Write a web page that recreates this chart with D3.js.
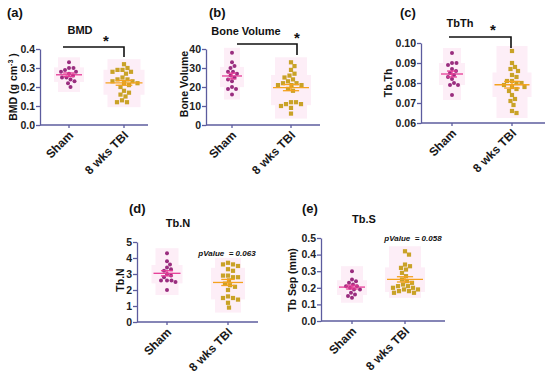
<!DOCTYPE html>
<html><head><meta charset="utf-8">
<script src="https://cdn.jsdelivr.net/npm/d3@7"></script>
<style>body{margin:0;background:#fff}svg{display:block;font-family:"Liberation Sans",Arial,sans-serif}</style>
</head><body>
<svg id="c" width="550" height="374"></svg>
<script>
// ---------- data ----------
const groups = ["Sham", "8 wks TBI"];

const bmdSham = [0.33, 0.30, 0.30, 0.29, 0.28, 0.28, 0.27, 0.26, 0.25, 0.25, 0.24, 0.23, 0.22, 0.20];
const bmdTbi  = [0.32, 0.30, 0.29, 0.29, 0.28, 0.28, 0.27, 0.25, 0.24, 0.24, 0.23, 0.23, 0.22, 0.22, 0.21, 0.20, 0.18, 0.17, 0.16, 0.15, 0.13, 0.12, 0.12];

const bvSham = [38, 33, 31, 30, 28, 28, 27, 26, 25, 24, 23, 20, 19, 19, 16];
const bvTbi  = [33, 31, 29, 27, 26, 25, 24, 23, 22, 22, 21, 21, 21, 19, 18, 12, 12, 11, 11, 10, 9, 6];

const tbthSham = [0.095, 0.090, 0.090, 0.089, 0.087, 0.086, 0.085, 0.084, 0.083, 0.082, 0.080, 0.079, 0.079, 0.074];
const tbthTbi  = [0.096, 0.090, 0.088, 0.087, 0.086, 0.084, 0.083, 0.081, 0.081, 0.080, 0.080, 0.079, 0.078, 0.078, 0.077, 0.076, 0.074, 0.072, 0.071, 0.069, 0.066, 0.065];

const tbnSham = [4.3, 3.8, 3.6, 3.4, 3.3, 3.2, 3.0, 2.9, 2.8, 2.6, 2.6, 2.6, 2.5, 2.0];
const tbnTbi  = [3.7, 3.6, 3.6, 3.5, 3.3, 3.2, 2.9, 2.9, 2.8, 2.8, 2.6, 2.4, 2.3, 2.2, 2.0, 1.6, 1.5, 1.5, 1.4, 1.2, 0.9];

const tbsSham = [0.30, 0.25, 0.24, 0.23, 0.22, 0.21, 0.21, 0.20, 0.19, 0.19, 0.17, 0.16, 0.15, 0.14];
const tbsTbi  = [0.42, 0.40, 0.34, 0.33, 0.32, 0.31, 0.29, 0.27, 0.25, 0.24, 0.23, 0.22, 0.21, 0.21, 0.20, 0.20, 0.19, 0.19, 0.18, 0.18, 0.17, 0.17];

const ticksBMD  = [0, 0.1, 0.2, 0.3, 0.4];
const ticksBV   = [0, 10, 20, 30, 40];
const ticksTbTh = [0.06, 0.07, 0.08, 0.09, 0.10];
const ticksTbN  = [0, 1, 2, 3, 4, 5];
const ticksTbS  = [0, 0.1, 0.2, 0.3, 0.4, 0.5];

const panelLabels = ["(a)", "(b)", "(c)", "(d)", "(e)"];
const titles = ["BMD", "Bone Volume", "TbTh", "Tb.N", "Tb.S"];
const yLabels = ["BMD (g cm", "Bone Volume", "Tb.Th", "Tb.N", "Tb Sep (mm)"];
const annotations = ["*", "*", "*", "pValue  = 0.063", "pValue  = 0.058"];

// ---------- layout ----------
const layout = [
  {x0:40,  x1:148, yb:125, yt:49, cx:[69,124],  lab:[7,17],   tit:[80,34],  yl:[13,87],  fmt:".1f", bracket:[63,124,47,57], star:[106,46]},
  {x0:206, x1:320, yb:125, yt:49, cx:[232,291], lab:[209,17], tit:[246,35], yl:[184,84], fmt:"d",   bracket:[237,297,44,55], star:[297,43]},
  {x0:421, x1:545, yb:123, yt:43, cx:[452,512], lab:[400,17], tit:[460,27], yl:[388,83], fmt:".2f", bracket:[449,511,37,48], star:[493,35]},
  {x0:137, x1:258, yb:322, yt:242,cx:[167,228], lab:[129,213],tit:[178,227],yl:[120,280],fmt:"d",   pv:[227,256]},
  {x0:321, x1:445, yb:321, yt:238,cx:[352,405], lab:[302,213],tit:[364,223],yl:[292,280],fmt:".1f", pv:[413,241]}
];

const dataSets = [[bmdSham,bmdTbi],[bvSham,bvTbi],[tbthSham,tbthTbi],[tbnSham,tbnTbi],[tbsSham,tbsTbi]];
const tickSets = [ticksBMD, ticksBV, ticksTbTh, ticksTbN, ticksTbS];

const colors = {
  dot: ["#9a2d7f", "#c9a227"],
  mean: ["#e63b96", "#f4a21f"],
  shade: "#fdeef7",
  axis: "#5c5c9e"
};

const svg = d3.select("#c");

function swarm(values, y, cx, d) {
  const pts = values.map(v => ({v, y: y(v)})).sort((a,b) => a.y - b.y);
  const placed = [];
  const offs = [0];
  for (let i = 1; i < 60; i++) { offs.push(i*0.5, -i*0.5); }
  for (const p of pts) {
    for (const o of offs) {
      const x = cx + o;
      if (placed.every(q => Math.hypot(q.x - x, q.y - p.y) >= d)) { p.x = x; break; }
    }
    placed.push(p);
  }
  return placed;
}

layout.forEach((L, i) => {
  const ticks = tickSets[i];
  const y = d3.scaleLinear().domain(d3.extent(ticks)).range([L.yb, L.yt]);
  const x = d3.scalePoint().domain(groups).range(L.cx);
  const g = svg.append("g");

  dataSets[i].forEach((vals, gi) => {
    const cx = x(groups[gi]);
    const pts = swarm(vals, y, cx, gi === 0 ? 4.3 : 4.9);
    const ext = d3.max(pts, p => Math.abs(p.x - cx));
    const sorted = vals.slice().sort(d3.ascending);
    const q1 = d3.quantile(sorted, 0.25), q3 = d3.quantile(sorted, 0.75);
    g.append("rect").attr("x", cx - ext - 3).attr("width", 2*ext + 6)
      .attr("y", y(d3.max(vals)) - 5).attr("height", y(d3.min(vals)) - y(d3.max(vals)) + 10)
      .attr("fill", colors.shade);
    g.append("rect").attr("x", cx - ext - 7).attr("width", 2*ext + 14)
      .attr("y", y(q3) - 3).attr("height", y(q1) - y(q3) + 6)
      .attr("fill", colors.shade);

    if (gi === 0) {
      g.selectAll(null).data(pts).join("circle")
        .attr("cx", p => p.x).attr("cy", p => p.y).attr("r", 2)
        .attr("fill", colors.dot[0]);
    } else {
      g.selectAll(null).data(pts).join("rect")
        .attr("x", p => p.x - 2.1).attr("y", p => p.y - 2.1)
        .attr("width", 4.2).attr("height", 4.2)
        .attr("fill", colors.dot[1]);
    }
    const m = d3.mean(vals);
    const sem = d3.deviation(vals) / Math.sqrt(vals.length);
    const hw = ext + 5, cw = hw * 0.45;
    const mc = colors.mean[gi];
    g.append("line").attr("x1", cx - hw).attr("x2", cx + hw).attr("y1", y(m)).attr("y2", y(m))
      .attr("stroke", mc).attr("stroke-width", 1.3);
    g.append("line").attr("x1", cx).attr("x2", cx).attr("y1", y(m - sem)).attr("y2", y(m + sem))
      .attr("stroke", mc).attr("stroke-width", 1.3);
    [m - sem, m + sem].forEach(v => g.append("line")
      .attr("x1", cx - cw).attr("x2", cx + cw).attr("y1", y(v)).attr("y2", y(v))
      .attr("stroke", mc).attr("stroke-width", 1.3));
  });

  // y axis
  const ya = g.append("g").attr("transform", `translate(${L.x0},0)`)
    .call(d3.axisLeft(y).tickValues(ticks).tickFormat(d3.format(L.fmt)).tickSize(4).tickSizeOuter(0));
  ya.select(".domain").attr("stroke", colors.axis).attr("stroke-width", 1.3);
  ya.selectAll(".tick line").attr("stroke", colors.axis).attr("stroke-width", 1.3);
  ya.selectAll(".tick text").attr("font-size", 10.5).attr("font-weight", "bold")
    .attr("fill", "#222").attr("font-family", "Liberation Sans, Arial, sans-serif").attr("x", -5);

  // x axis
  g.append("line").attr("x1", L.x0).attr("x2", L.x1).attr("y1", L.yb).attr("y2", L.yb)
    .attr("stroke", colors.axis).attr("stroke-width", 1.3);
  groups.forEach(gr => {
    const tx = x(gr);
    g.append("line").attr("x1", tx).attr("x2", tx).attr("y1", L.yb).attr("y2", L.yb + 3)
      .attr("stroke", colors.axis).attr("stroke-width", 1.3);
    g.append("text").attr("transform", `translate(${tx + 5},${L.yb + 11}) rotate(-45)`)
      .attr("text-anchor", "end").attr("font-size", 12).attr("font-weight", "bold")
      .attr("fill", "#1a1a1a").text(gr);
  });

  // panel label + title
  g.append("text").attr("x", L.lab[0]).attr("y", L.lab[1]).attr("font-size", 13)
    .attr("font-weight", "bold").attr("fill", "#111").text(panelLabels[i]);
  g.append("text").attr("x", L.tit[0]).attr("y", L.tit[1]).attr("text-anchor", "middle")
    .attr("font-size", 11).attr("font-weight", "bold").attr("fill", "#111").text(titles[i]);

  // y label
  const yt = g.append("text").attr("transform", `translate(${L.yl[0]},${L.yl[1]}) rotate(-90)`)
    .attr("text-anchor", "middle").attr("dy", "0.35em").attr("font-size", 10.5).attr("font-weight", "bold").attr("fill", "#111");
  if (i === 0) {
    yt.append("tspan").text(yLabels[0]);
    yt.append("tspan").attr("dy", -4).attr("font-size", 7).text("-3");
    yt.append("tspan").attr("dy", 4).text(" )");
  } else {
    yt.text(yLabels[i]);
  }

  // significance
  if (L.bracket) {
    const [bx1, bx2, by, by2] = L.bracket;
    g.append("path").attr("d", `M${bx1},${by}H${bx2}V${by2}`).attr("fill", "none")
      .attr("stroke", "#111").attr("stroke-width", 1.6);
    g.append("text").attr("x", L.star[0]).attr("y", L.star[1]).attr("text-anchor", "middle")
      .attr("font-size", 15).attr("font-weight", "bold").attr("fill", "#111").text(annotations[i]);
  }
  if (L.pv) {
    g.append("text").attr("x", L.pv[0]).attr("y", L.pv[1]).attr("text-anchor", "middle")
      .attr("font-size", 8).attr("font-weight", "bold").attr("font-style", "italic")
      .attr("fill", "#111").attr("xml:space", "preserve").style("white-space", "pre").text(annotations[i]);
  }
});
</script>
</body></html>
